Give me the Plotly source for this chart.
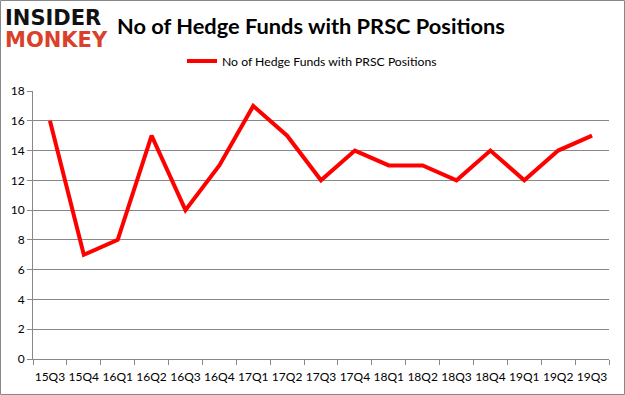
import plotly.graph_objects as go

quarters = ["15Q3", "15Q4", "16Q1", "16Q2", "16Q3", "16Q4", "17Q1", "17Q2", "17Q3",
            "17Q4", "18Q1", "18Q2", "18Q3", "18Q4", "19Q1", "19Q2", "19Q3"]
hedge_funds = [16, 7, 8, 15, 10, 13, 17, 15, 12, 14, 13, 13, 12, 14, 12, 14, 15]
series_name = "No of Hedge Funds with PRSC Positions"
y_ticks = [0, 2, 4, 6, 8, 10, 12, 14, 16, 18]

W, H = 625, 395
L, R, T, B = 33, 16, 91, 36
pw, ph = W - L - R, H - T - B

fig = go.Figure()
fig.add_trace(go.Scatter(
    x=quarters, y=hedge_funds, mode="lines", name=series_name,
    line=dict(color="#ff0000", width=4),
))

def px_x(p):
    return (p - L) / pw

def px_y(p):
    return 1 - (p - T) / ph

fig.update_layout(
    width=W, height=H,
    margin=dict(l=L, r=R, t=T, b=B),
    paper_bgcolor="white", plot_bgcolor="white",
    font=dict(family="Lato, Carlito, sans-serif", size=12, color="#000"),
    showlegend=True,
    legend=dict(orientation="h", x=px_x(312), xanchor="center", y=px_y(61), yanchor="middle",
                font=dict(size=12.2), itemwidth=30),
    xaxis=dict(type="category", tickson="boundaries", ticks="outside", ticklen=5,
               tickcolor="#888", showline=True, linecolor="#888", showgrid=False,
               tickangle=0, tickfont=dict(size=12), range=[-0.5, 16.5],
               ticklabelstandoff=7),
    yaxis=dict(range=[0, 18], tickvals=y_ticks, ticks="outside", ticklen=5,
               tickcolor="#888", showline=True, linecolor="#888", showgrid=True,
               gridcolor="#888", gridwidth=1, zeroline=False, tickfont=dict(size=12)),
    annotations=[
        dict(text="<b>No of Hedge Funds with PRSC Positions</b>", xref="paper", yref="paper",
             x=px_x(311), y=px_y(26), xanchor="center", yanchor="middle", showarrow=False,
             font=dict(size=21.8, color="#000")),
        dict(text="<b>INSIDER</b>", xref="paper", yref="paper", x=px_x(3), y=px_y(18),
             xanchor="left", yanchor="middle", showarrow=False,
             font=dict(size=21, family="DejaVu Sans, sans-serif", color="#111")),
        dict(text="<b>MONKEY</b>", xref="paper", yref="paper", x=px_x(3), y=px_y(40),
             xanchor="left", yanchor="middle", showarrow=False,
             font=dict(size=21, family="DejaVu Sans, sans-serif", color="#d9412b")),
    ],
    shapes=[dict(type="rect", xref="paper", yref="paper",
                 x0=px_x(0.5), x1=px_x(W - 0.5), y0=px_y(H - 0.5), y1=px_y(0.5),
                 line=dict(color="#888", width=1), layer="below")],
)

fig.write_html("out.html", config={"displayModeBar": False},
               post_script="document.body.style.margin='0';")
